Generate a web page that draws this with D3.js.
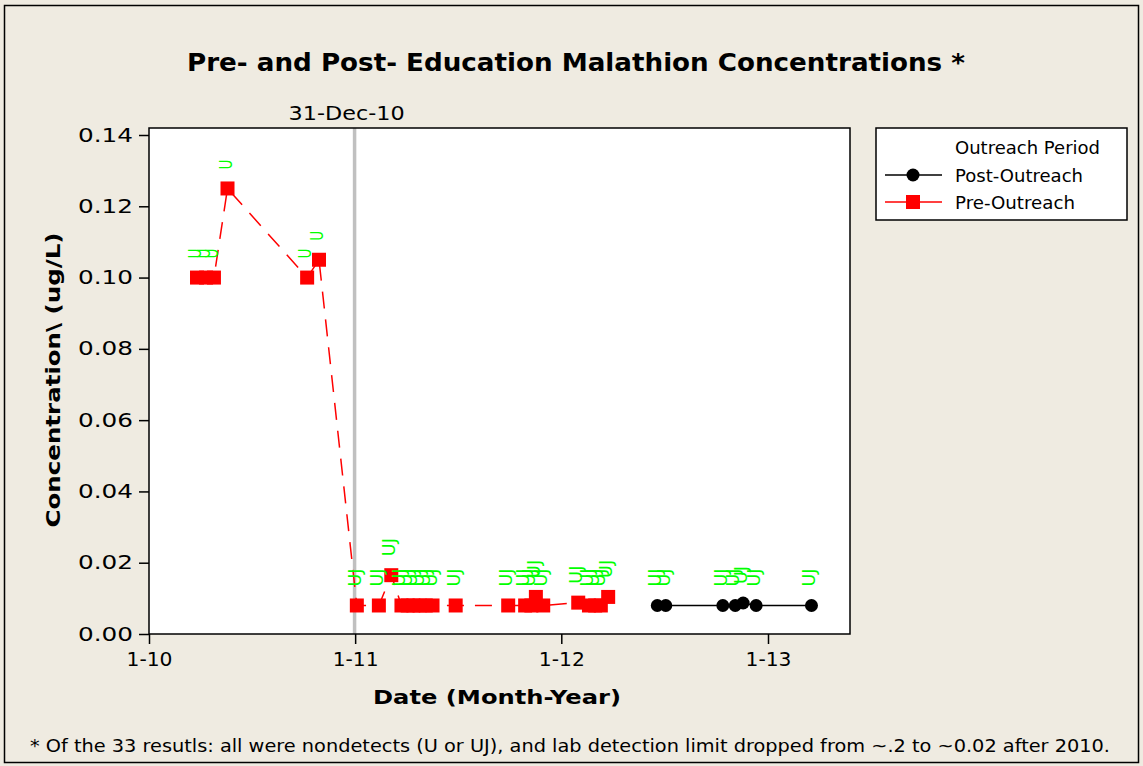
<!DOCTYPE html>
<html>
<head>
<meta charset="utf-8">
<style>
  body { margin: 0; background: #fff; }
  svg { display: block; font-family: "DejaVu Sans", Tahoma, sans-serif; }
</style>
<script src="https://d3js.org/d3.v7.min.js"></script>
</head>
<body>
<svg width="1143" height="766"></svg>
<script>
// ---- data ----
var preDates = ["2010-03-27","2010-04-12","2010-04-26","2010-05-20","2010-10-08","2010-10-29",
  "2011-01-04","2011-02-12","2011-03-06","2011-03-24","2011-04-04","2011-04-14","2011-04-25",
  "2011-05-06","2011-05-18","2011-06-28","2011-09-29","2011-10-29","2011-11-09","2011-11-17",
  "2011-11-30","2012-01-31","2012-02-19","2012-03-01","2012-03-11","2012-03-24"];
var preValues = [0.100,0.100,0.100,0.125,0.100,0.105,
  0.008,0.008,0.0165,0.008,0.008,0.008,0.008,
  0.008,0.008,0.008,0.008,0.008,0.008,0.0104,
  0.008,0.0088,0.008,0.008,0.008,0.0104];
var preFlags = ["U","U","U","U","U","U",
  "UJ","UJ","UJ","UJ","UJ","UJ","UJ",
  "UJ","UJ","UJ","UJ","UJ","UJ","UJ",
  "UJ","UJ","UJ","UJ","UJ","UJ"];

var postDates = ["2012-06-19","2012-07-04","2012-10-13","2012-11-04","2012-11-18","2012-12-11","2013-03-19"];
var postValues = [0.008,0.008,0.008,0.008,0.0087,0.008,0.008];
var postFlags = ["UJ","UJ","UJ","UJ","UJ","UJ","UJ"];

var yTicks = [0, 0.02, 0.04, 0.06, 0.08, 0.10, 0.12, 0.14];
var xTicks = ["2010-01-01","2011-01-01","2012-01-01","2013-01-01"];
var refDate = "2010-12-31";
var refLabel = "31-Dec-10";

var parse = d3.utcParse("%Y-%m-%d");
var pre = preDates.map(function(d, i) { return {date: parse(d), value: preValues[i], flag: preFlags[i]}; });
var post = postDates.map(function(d, i) { return {date: parse(d), value: postValues[i], flag: postFlags[i]}; });

var svg = d3.select("svg");
var bg = "#EFEBE1";

svg.append("rect").attr("width", 1143).attr("height", 766).attr("fill", bg);
svg.append("rect").attr("x", 4.5).attr("y", 5.5).attr("width", 1134).attr("height", 757)
    .attr("fill", "none").attr("stroke", "#000").attr("stroke-width", 1.5);

var plot = {left: 149, right: 850, top: 128, bottom: 634};

var x = d3.scaleUtc()
    .domain([parse(xTicks[0]), parse(xTicks[3])])
    .range([149, 768]);
var y = d3.scaleLinear()
    .domain([0, 0.14])
    .range([634, 135]);

svg.append("rect")
    .attr("x", plot.left).attr("y", plot.top)
    .attr("width", plot.right - plot.left).attr("height", plot.bottom - plot.top)
    .attr("fill", "#fff");

// reference line
svg.append("line")
    .attr("x1", x(parse(refDate))).attr("x2", x(parse(refDate)))
    .attr("y1", plot.top).attr("y2", plot.bottom)
    .attr("stroke", "#C0C0C0").attr("stroke-width", 3.5);
svg.append("text")
    .attr("x", x(parse(refDate)) - 8).attr("y", 120)
    .attr("text-anchor", "middle")
    .attr("font-size", 19)
    .attr("textLength", 116).attr("lengthAdjust", "spacingAndGlyphs")
    .text(refLabel);

svg.append("rect")
    .attr("x", plot.left).attr("y", plot.top)
    .attr("width", plot.right - plot.left).attr("height", plot.bottom - plot.top)
    .attr("fill", "none").attr("stroke", "#000").attr("stroke-width", 1.5);

// axes
var yAxis = svg.append("g")
    .attr("transform", "translate(" + plot.left + ",0)")
    .call(d3.axisLeft(y).tickValues(yTicks).tickFormat(d3.format(".2f")).tickSize(10).tickPadding(6));
yAxis.select(".domain").remove();
yAxis.selectAll("line").attr("stroke-width", 1.5);
yAxis.selectAll("text")
    .attr("font-size", 19).attr("font-family", "DejaVu Sans").attr("fill", "#000")
    .attr("textLength", 55).attr("lengthAdjust", "spacingAndGlyphs");

var xAxis = svg.append("g")
    .attr("transform", "translate(0," + plot.bottom + ")")
    .call(d3.axisBottom(x).tickValues(xTicks.map(parse)).tickFormat(d3.utcFormat("%-m-%y")).tickSize(10).tickPadding(9));
xAxis.select(".domain").remove();
xAxis.selectAll("line").attr("stroke-width", 1.5);
xAxis.selectAll("text")
    .attr("font-size", 19).attr("font-family", "DejaVu Sans").attr("fill", "#000")
    .attr("textLength", 46).attr("lengthAdjust", "spacingAndGlyphs");

// lines
var line = d3.line()
    .x(function(d) { return x(d.date); })
    .y(function(d) { return y(d.value); });

svg.append("path").datum(pre)
    .attr("d", line).attr("fill", "none")
    .attr("stroke", "#FF0000").attr("stroke-width", 1.5)
    .attr("stroke-dasharray", "17,11");
svg.append("path").datum(post)
    .attr("d", line).attr("fill", "none")
    .attr("stroke", "#000").attr("stroke-width", 1.5);

// markers
svg.selectAll(".sq").data(pre).enter().append("rect")
    .attr("class", "sq")
    .attr("x", function(d) { return x(d.date) - 7; })
    .attr("y", function(d) { return y(d.value) - 7; })
    .attr("width", 14).attr("height", 14)
    .attr("fill", "#FF0000");
svg.selectAll(".dot").data(post).enter().append("circle")
    .attr("class", "dot")
    .attr("cx", function(d) { return x(d.date); })
    .attr("cy", function(d) { return y(d.value); })
    .attr("r", 6.5)
    .attr("fill", "#000");

// U / UJ labels
svg.selectAll(".flag").data(pre.concat(post)).enter().append("text")
    .attr("class", "flag")
    .attr("transform", function(d) {
      return "translate(" + (x(d.date) + 4) + "," + (y(d.value) - 19) + ") rotate(-90)";
    })
    .attr("font-size", 18)
    .attr("textLength", function(d) { return d.flag.length === 1 ? 10 : 18; })
    .attr("lengthAdjust", "spacingAndGlyphs")
    .attr("fill", "#00FF00")
    .text(function(d) { return d.flag; });

// titles
svg.append("text")
    .attr("x", 576).attr("y", 71)
    .attr("text-anchor", "middle")
    .attr("font-size", 24).attr("font-weight", "bold")
    .attr("textLength", 778).attr("lengthAdjust", "spacingAndGlyphs")
    .text("Pre- and Post- Education Malathion Concentrations *");

svg.append("text")
    .attr("transform", "translate(60,380) rotate(-90)")
    .attr("text-anchor", "middle")
    .attr("font-size", 19).attr("font-weight", "bold")
    .attr("textLength", 295).attr("lengthAdjust", "spacingAndGlyphs")
    .text("Concentration\\ (ug/L)");

svg.append("text")
    .attr("x", 497).attr("y", 704)
    .attr("text-anchor", "middle")
    .attr("font-size", 20).attr("font-weight", "bold")
    .attr("textLength", 248).attr("lengthAdjust", "spacingAndGlyphs")
    .text("Date (Month-Year)");

svg.append("text")
    .attr("x", 30).attr("y", 752)
    .attr("font-size", 17)
    .attr("textLength", 1080).attr("lengthAdjust", "spacingAndGlyphs")
    .text("* Of the 33 resutls: all were nondetects (U or UJ), and lab detection limit dropped from ~.2 to ~0.02 after 2010.");

// legend
var lg = svg.append("g");
lg.append("rect").attr("x", 876).attr("y", 128).attr("width", 251).attr("height", 92)
    .attr("fill", "#fff").attr("stroke", "#000").attr("stroke-width", 1.5);
lg.append("text").attr("x", 955).attr("y", 154).attr("font-size", 17)
    .attr("textLength", 145).attr("lengthAdjust", "spacingAndGlyphs")
    .text("Outreach Period");
lg.append("line").attr("x1", 885).attr("x2", 942).attr("y1", 175).attr("y2", 175)
    .attr("stroke", "#000").attr("stroke-width", 1.5);
lg.append("circle").attr("cx", 913).attr("cy", 175).attr("r", 6.5).attr("fill", "#000");
lg.append("text").attr("x", 955).attr("y", 182).attr("font-size", 17)
    .attr("textLength", 128).attr("lengthAdjust", "spacingAndGlyphs")
    .text("Post-Outreach");
lg.append("line").attr("x1", 885).attr("x2", 942).attr("y1", 202).attr("y2", 202)
    .attr("stroke", "#FF0000").attr("stroke-width", 1.5);
lg.append("rect").attr("x", 906).attr("y", 195).attr("width", 14).attr("height", 14).attr("fill", "#FF0000");
lg.append("text").attr("x", 955).attr("y", 209).attr("font-size", 17)
    .attr("textLength", 120).attr("lengthAdjust", "spacingAndGlyphs")
    .text("Pre-Outreach");
</script>
</body>
</html>
